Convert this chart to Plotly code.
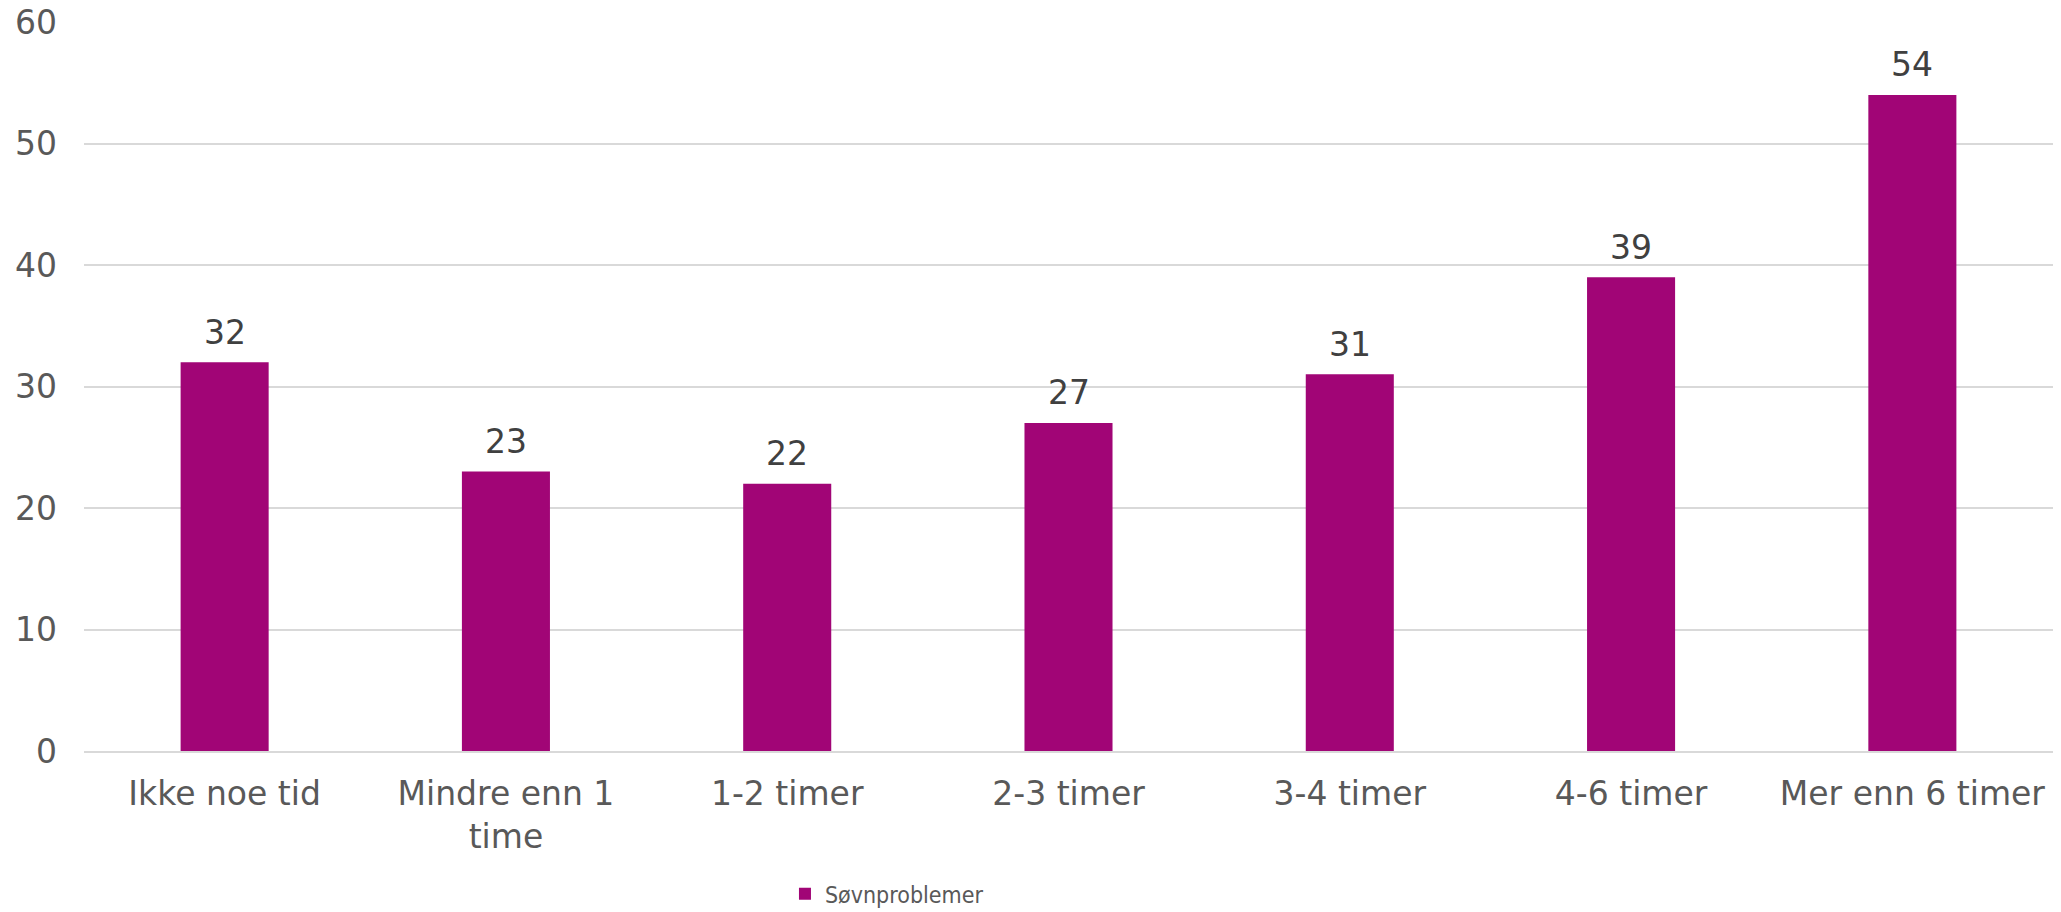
import plotly.graph_objects as go

categories = ["Ikke noe tid", "Mindre enn 1<br>time", "1-2 timer", "2-3 timer",
              "3-4 timer", "4-6 timer", "Mer enn 6 timer"]
values = [32, 23, 22, 27, 31, 39, 54]
series_name = "Søvnproblemer"
y_ticks = [0, 10, 20, 30, 40, 50, 60]

BAR = "#A10576"
FONT = "DejaVu Sans"

fig = go.Figure()
fig.add_trace(go.Bar(
    x=categories, y=values, name=series_name,
    marker=dict(color=BAR, line=dict(width=0)),
    width=0.313,
    cliponaxis=False,
))

for c, v in zip(categories, values):
    fig.add_annotation(x=c, y=v, text=str(v), showarrow=False,
                       yanchor="middle", yshift=30,
                       font=dict(family=FONT, size=33, color="#404040"))

fig.update_layout(
    width=2061, height=912,
    margin=dict(l=84, r=8, t=22, b=161, autoexpand=False),
    plot_bgcolor="white", paper_bgcolor="white",
    font=dict(family=FONT, size=33, color="#595959"),
    showlegend=True,
    legend=dict(orientation="h", x=0.356, xanchor="left", y=-0.196, yanchor="middle",
                font=dict(family="DejaVu Sans Condensed", size=23, color="#595959"),
                itemwidth=30, tracegroupgap=0),
)
fig.update_xaxes(
    showgrid=False, showline=True, linecolor="#D9D9D9", linewidth=2,
    ticks="", tickfont=dict(family=FONT, size=33, color="#595959"),
    ticklabelstandoff=12,
)
fig.update_yaxes(
    range=[0, 60], tickvals=y_ticks, showgrid=True, gridcolor="#D9D9D9", gridwidth=2,
    zeroline=False, showline=False, ticks="",
    tickfont=dict(family=FONT, size=33, color="#595959"),
    ticklabelstandoff=26,
)

fig.write_html("out.html", config={"displayModeBar": False},
               post_script="document.body.style.margin='0';")
